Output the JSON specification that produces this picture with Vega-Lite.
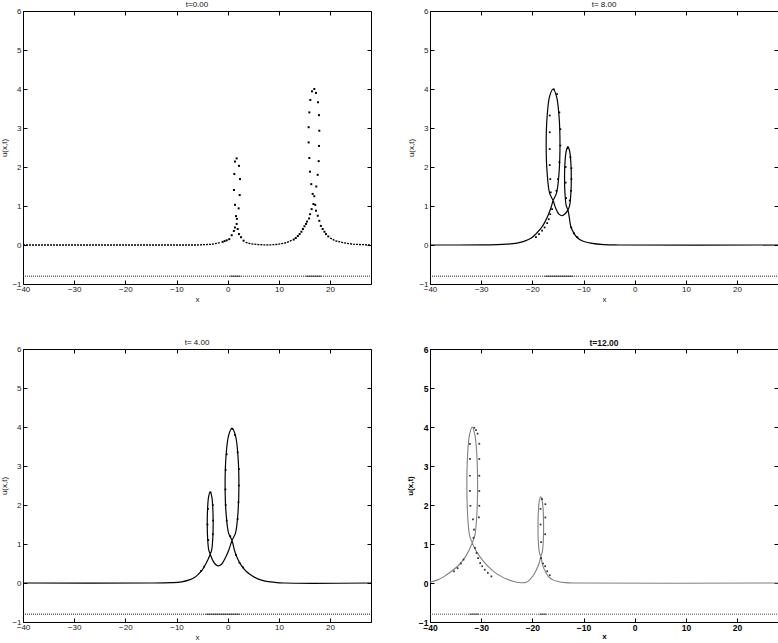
{
"$schema": "https://vega.github.io/schema/vega-lite/v6.json",
"background": "white",
"padding": {"left": 0, "top": 0, "right": 0, "bottom": 0},
"bounds": "flush",
"columns": 2,
"spacing": {"row": 65, "column": 59},
"config": {
  "font": "Liberation Sans",
  "view": {"stroke": "black", "strokeWidth": 1},
  "title": {"fontSize": 8, "fontWeight": "normal", "offset": -2, "color": "#111"},
  "axis": {"labelFontSize": 8, "titleFontSize": 8, "titleFontWeight": "normal", "tickColor": "black", "labelColor": "#222", "titleColor": "#222", "grid": false, "domain": false, "tickSize": -4, "tickWidth": 1, "labelFlush": false, "minExtent": 0},
  "axisX": {"labelPadding": 5},
  "axisY": {"labelPadding": 6}
},
"datasets": {
  "mesh": [
    {"p":"TL","k":"d","x":-40,"x2":28,"u":-0.8},{"p":"TL","k":"c","x":0.5,"x2":2.5,"u":-0.8},{"p":"TL","k":"c","x":15.3,"x2":18.3,"u":-0.8},
    {"p":"TR","k":"d","x":-40,"x2":28,"u":-0.8},{"p":"TR","k":"c","x":-17.5,"x2":-12,"u":-0.8},
    {"p":"BL","k":"d","x":-40,"x2":28,"u":-0.8},{"p":"BL","k":"c","x":-4.2,"x2":2.3,"u":-0.8},
    {"p":"BR","k":"d","x":-40,"x2":28,"u":-0.8},{"p":"BR","k":"c","x":-32.3,"x2":-30.4,"u":-0.8},{"p":"BR","k":"c","x":-18.6,"x2":-17.3,"u":-0.8}
  ],
  "curve": [
    {"p":"TL","s":"a","i":1,"x":-40,"u":0},{"p":"TL","s":"a","i":2,"x":-6,"u":0},{"p":"TL","s":"a","i":3,"x":-3,"u":0.02},{"p":"TL","s":"a","i":4,"x":-1.5,"u":0.06},
    {"p":"TL","s":"b","i":1,"x":3.5,"u":0.07},{"p":"TL","s":"b","i":2,"x":4.5,"u":0.03},{"p":"TL","s":"b","i":3,"x":6,"u":0.01},{"p":"TL","s":"b","i":4,"x":8,"u":0},{"p":"TL","s":"b","i":5,"x":10,"u":0.02},{"p":"TL","s":"b","i":6,"x":11.5,"u":0.06},{"p":"TL","s":"b","i":7,"x":12.5,"u":0.12},
    {"p":"TL","s":"c","i":1,"x":20,"u":0.18},{"p":"TL","s":"c","i":2,"x":21,"u":0.11},{"p":"TL","s":"c","i":3,"x":22.5,"u":0.06},{"p":"TL","s":"c","i":4,"x":24.5,"u":0.02},{"p":"TL","s":"c","i":5,"x":28,"u":0},

    {"p":"TR","i":1,"x":-40,"u":0},{"p":"TR","i":2,"x":-30,"u":0.002},{"p":"TR","i":3,"x":-27,"u":0.008},{"p":"TR","i":4,"x":-25,"u":0.02},{"p":"TR","i":5,"x":-23,"u":0.05},{"p":"TR","i":6,"x":-21.5,"u":0.1},{"p":"TR","i":7,"x":-20.2,"u":0.18},{"p":"TR","i":8,"x":-19.2,"u":0.3},{"p":"TR","i":9,"x":-18.3,"u":0.43},{"p":"TR","i":10,"x":-17.5,"u":0.6},{"p":"TR","i":11,"x":-16.8,"u":0.8},{"p":"TR","i":12,"x":-16.3,"u":0.98},{"p":"TR","i":13,"x":-15.95,"u":1.14},{"p":"TR","i":14,"x":-15.28,"u":1.33},{"p":"TR","i":15,"x":-14.78,"u":1.86},{"p":"TR","i":16,"x":-14.6,"u":2.57},{"p":"TR","i":17,"x":-14.78,"u":3.29},{"p":"TR","i":18,"x":-15.28,"u":3.81},{"p":"TR","i":19,"x":-15.95,"u":4.0},{"p":"TR","i":20,"x":-16.63,"u":3.81},{"p":"TR","i":21,"x":-17.12,"u":3.29},{"p":"TR","i":22,"x":-17.3,"u":2.57},{"p":"TR","i":23,"x":-17.12,"u":1.86},{"p":"TR","i":24,"x":-16.63,"u":1.33},{"p":"TR","i":25,"x":-15.95,"u":1.14},{"p":"TR","i":26,"x":-15.4,"u":0.93},{"p":"TR","i":27,"x":-14.8,"u":0.79},{"p":"TR","i":28,"x":-14.2,"u":0.75},{"p":"TR","i":29,"x":-13.6,"u":0.8},{"p":"TR","i":30,"x":-13.05,"u":0.9},{"p":"TR","i":31,"x":-12.72,"u":1.01},{"p":"TR","i":32,"x":-12.48,"u":1.31},{"p":"TR","i":33,"x":-12.39,"u":1.71},{"p":"TR","i":34,"x":-12.48,"u":2.12},{"p":"TR","i":35,"x":-12.72,"u":2.41},{"p":"TR","i":36,"x":-13.05,"u":2.52},{"p":"TR","i":37,"x":-13.38,"u":2.41},{"p":"TR","i":38,"x":-13.62,"u":2.12},{"p":"TR","i":39,"x":-13.71,"u":1.71},{"p":"TR","i":40,"x":-13.62,"u":1.31},{"p":"TR","i":41,"x":-13.38,"u":1.01},{"p":"TR","i":42,"x":-13.05,"u":0.9},{"p":"TR","i":43,"x":-12.75,"u":0.68},{"p":"TR","i":44,"x":-12.5,"u":0.48},{"p":"TR","i":45,"x":-12.0,"u":0.33},{"p":"TR","i":46,"x":-11.3,"u":0.2},{"p":"TR","i":47,"x":-10.3,"u":0.11},{"p":"TR","i":48,"x":-8.6,"u":0.05},{"p":"TR","i":49,"x":-6,"u":0.01},{"p":"TR","i":50,"x":-3,"u":0},{"p":"TR","i":51,"x":28,"u":0},

    {"p":"BL","i":1,"x":-40,"u":0},{"p":"BL","i":2,"x":-15,"u":0},{"p":"BL","i":3,"x":-11,"u":0.01},{"p":"BL","i":4,"x":-9,"u":0.03},{"p":"BL","i":5,"x":-7.5,"u":0.08},{"p":"BL","i":6,"x":-6.5,"u":0.14},{"p":"BL","i":7,"x":-5.7,"u":0.23},{"p":"BL","i":8,"x":-5.0,"u":0.33},{"p":"BL","i":9,"x":-4.45,"u":0.45},{"p":"BL","i":10,"x":-3.85,"u":0.6},{"p":"BL","i":11,"x":-3.42,"u":0.74},{"p":"BL","i":12,"x":-3.13,"u":0.85},{"p":"BL","i":13,"x":-2.92,"u":1.14},{"p":"BL","i":14,"x":-2.84,"u":1.54},{"p":"BL","i":15,"x":-2.92,"u":1.94},{"p":"BL","i":16,"x":-3.13,"u":2.23},{"p":"BL","i":17,"x":-3.42,"u":2.34},{"p":"BL","i":18,"x":-3.71,"u":2.23},{"p":"BL","i":19,"x":-3.92,"u":1.94},{"p":"BL","i":20,"x":-4.0,"u":1.54},{"p":"BL","i":21,"x":-3.92,"u":1.14},{"p":"BL","i":22,"x":-3.71,"u":0.85},{"p":"BL","i":23,"x":-3.42,"u":0.74},{"p":"BL","i":24,"x":-2.85,"u":0.56},{"p":"BL","i":25,"x":-2.3,"u":0.47},{"p":"BL","i":26,"x":-1.85,"u":0.44},{"p":"BL","i":27,"x":-1.2,"u":0.48},{"p":"BL","i":28,"x":-0.55,"u":0.62},{"p":"BL","i":29,"x":0.2,"u":0.84},{"p":"BL","i":30,"x":0.84,"u":1.09},{"p":"BL","i":31,"x":1.52,"u":1.28},{"p":"BL","i":32,"x":2.01,"u":1.81},{"p":"BL","i":33,"x":2.19,"u":2.53},{"p":"BL","i":34,"x":2.01,"u":3.25},{"p":"BL","i":35,"x":1.52,"u":3.78},{"p":"BL","i":36,"x":0.84,"u":3.97},{"p":"BL","i":37,"x":0.17,"u":3.78},{"p":"BL","i":38,"x":-0.33,"u":3.25},{"p":"BL","i":39,"x":-0.51,"u":2.53},{"p":"BL","i":40,"x":-0.33,"u":1.81},{"p":"BL","i":41,"x":0.17,"u":1.28},{"p":"BL","i":42,"x":0.84,"u":1.09},{"p":"BL","i":43,"x":1.41,"u":0.8},{"p":"BL","i":44,"x":2.0,"u":0.6},{"p":"BL","i":45,"x":2.72,"u":0.44},{"p":"BL","i":46,"x":3.6,"u":0.3},{"p":"BL","i":47,"x":4.68,"u":0.19},{"p":"BL","i":48,"x":6,"u":0.1},{"p":"BL","i":49,"x":7.3,"u":0.05},{"p":"BL","i":50,"x":9,"u":0.02},{"p":"BL","i":51,"x":11,"u":0},{"p":"BL","i":52,"x":28,"u":0},

    {"p":"BR","i":1,"x":-40,"u":0.02},{"p":"BR","i":2,"x":-38.5,"u":0.08},{"p":"BR","i":3,"x":-37.2,"u":0.17},{"p":"BR","i":4,"x":-35.8,"u":0.3},{"p":"BR","i":5,"x":-34.6,"u":0.43},{"p":"BR","i":6,"x":-33.7,"u":0.56},{"p":"BR","i":7,"x":-33.0,"u":0.69},{"p":"BR","i":8,"x":-32.3,"u":0.86},{"p":"BR","i":9,"x":-31.75,"u":1.03},{"p":"BR","i":10,"x":-31.23,"u":1.23},{"p":"BR","i":11,"x":-30.84,"u":1.77},{"p":"BR","i":12,"x":-30.7,"u":2.52},{"p":"BR","i":13,"x":-30.84,"u":3.26},{"p":"BR","i":14,"x":-31.23,"u":3.8},{"p":"BR","i":15,"x":-31.75,"u":4.0},{"p":"BR","i":16,"x":-32.28,"u":3.8},{"p":"BR","i":17,"x":-32.66,"u":3.26},{"p":"BR","i":18,"x":-32.8,"u":2.52},{"p":"BR","i":19,"x":-32.66,"u":1.77},{"p":"BR","i":20,"x":-32.28,"u":1.23},{"p":"BR","i":21,"x":-31.75,"u":1.03},{"p":"BR","i":22,"x":-31.2,"u":0.87},{"p":"BR","i":23,"x":-30.6,"u":0.74},{"p":"BR","i":24,"x":-29.7,"u":0.58},{"p":"BR","i":25,"x":-28.7,"u":0.43},{"p":"BR","i":26,"x":-27.4,"u":0.28},{"p":"BR","i":27,"x":-26.1,"u":0.17},{"p":"BR","i":28,"x":-24.8,"u":0.09},{"p":"BR","i":29,"x":-23.6,"u":0.04},{"p":"BR","i":30,"x":-22.6,"u":0.012},{"p":"BR","i":31,"x":-21.9,"u":0.005},{"p":"BR","i":32,"x":-21.2,"u":0.02},{"p":"BR","i":33,"x":-20.7,"u":0.06},{"p":"BR","i":34,"x":-20.2,"u":0.13},{"p":"BR","i":35,"x":-19.7,"u":0.22},{"p":"BR","i":36,"x":-19.2,"u":0.34},{"p":"BR","i":37,"x":-18.7,"u":0.5},{"p":"BR","i":38,"x":-18.35,"u":0.68},{"p":"BR","i":39,"x":-18.08,"u":0.78},{"p":"BR","i":40,"x":-17.87,"u":1.06},{"p":"BR","i":41,"x":-17.8,"u":1.45},{"p":"BR","i":42,"x":-17.87,"u":1.83},{"p":"BR","i":43,"x":-18.08,"u":2.11},{"p":"BR","i":44,"x":-18.35,"u":2.21},{"p":"BR","i":45,"x":-18.63,"u":2.11},{"p":"BR","i":46,"x":-18.83,"u":1.83},{"p":"BR","i":47,"x":-18.9,"u":1.45},{"p":"BR","i":48,"x":-18.83,"u":1.06},{"p":"BR","i":49,"x":-18.63,"u":0.78},{"p":"BR","i":50,"x":-18.35,"u":0.68},{"p":"BR","i":51,"x":-18.1,"u":0.52},{"p":"BR","i":52,"x":-17.9,"u":0.42},{"p":"BR","i":53,"x":-17.4,"u":0.28},{"p":"BR","i":54,"x":-16.9,"u":0.17},{"p":"BR","i":55,"x":-16.0,"u":0.08},{"p":"BR","i":56,"x":-15.0,"u":0.04},{"p":"BR","i":57,"x":-13.5,"u":0.01},{"p":"BR","i":58,"x":-11.7,"u":0},{"p":"BR","i":59,"x":28,"u":0}
  ],
  "dots": [
    {"p":"TL","x":-1.0,"u":0.08},{"p":"TL","x":-0.6,"u":0.1},{"p":"TL","x":-0.2,"u":0.12},{"p":"TL","x":0.3,"u":0.15},{"p":"TL","x":0.78,"u":0.25},{"p":"TL","x":1.2,"u":0.36},{"p":"TL","x":1.42,"u":0.45},{"p":"TL","x":1.75,"u":0.54},{"p":"TL","x":1.62,"u":0.74},{"p":"TL","x":1.42,"u":1.03},{"p":"TL","x":1.23,"u":1.41},{"p":"TL","x":1.29,"u":1.82},{"p":"TL","x":1.42,"u":2.14},{"p":"TL","x":1.75,"u":2.22},{"p":"TL","x":2.2,"u":2.03},{"p":"TL","x":2.4,"u":1.69},{"p":"TL","x":2.34,"u":1.28},{"p":"TL","x":2.14,"u":0.94},{"p":"TL","x":1.8,"u":0.67},{"p":"TL","x":1.95,"u":0.41},{"p":"TL","x":2.2,"u":0.28},{"p":"TL","x":2.6,"u":0.2},{"p":"TL","x":3.1,"u":0.11},
    {"p":"TL","x":12.9,"u":0.14},{"p":"TL","x":13.3,"u":0.18},{"p":"TL","x":13.7,"u":0.23},{"p":"TL","x":14.05,"u":0.28},{"p":"TL","x":14.4,"u":0.34},{"p":"TL","x":14.7,"u":0.41},{"p":"TL","x":15.0,"u":0.48},{"p":"TL","x":15.3,"u":0.54},{"p":"TL","x":15.5,"u":0.6},{"p":"TL","x":15.9,"u":0.68},{"p":"TL","x":16.1,"u":0.79},{"p":"TL","x":16.4,"u":0.92},{"p":"TL","x":16.75,"u":1.05},{"p":"TL","x":16.6,"u":1.31},{"p":"TL","x":16.33,"u":1.56},{"p":"TL","x":16.08,"u":1.88},{"p":"TL","x":15.95,"u":2.23},{"p":"TL","x":15.82,"u":2.63},{"p":"TL","x":15.82,"u":3.02},{"p":"TL","x":15.95,"u":3.4},{"p":"TL","x":16.14,"u":3.72},{"p":"TL","x":16.47,"u":3.94},{"p":"TL","x":16.92,"u":4.0},{"p":"TL","x":17.25,"u":3.9},{"p":"TL","x":17.64,"u":3.66},{"p":"TL","x":17.84,"u":3.33},{"p":"TL","x":17.9,"u":2.93},{"p":"TL","x":17.84,"u":2.54},{"p":"TL","x":17.78,"u":2.15},{"p":"TL","x":17.58,"u":1.8},{"p":"TL","x":17.31,"u":1.5},{"p":"TL","x":16.92,"u":1.25},{"p":"TL","x":17.1,"u":1.03},{"p":"TL","x":17.25,"u":0.88},{"p":"TL","x":17.6,"u":0.75},{"p":"TL","x":17.9,"u":0.62},{"p":"TL","x":18.2,"u":0.49},{"p":"TL","x":18.55,"u":0.41},{"p":"TL","x":18.9,"u":0.34},{"p":"TL","x":19.2,"u":0.28},{"p":"TL","x":19.65,"u":0.22},

    {"p":"TR","x":-15.8,"u":3.99},{"p":"TR","x":-15.17,"u":3.87},{"p":"TR","x":-14.72,"u":3.4},{"p":"TR","x":-14.52,"u":2.97},{"p":"TR","x":-14.52,"u":2.55},{"p":"TR","x":-14.72,"u":2.12},{"p":"TR","x":-14.98,"u":1.69},{"p":"TR","x":-15.3,"u":1.39},{"p":"TR","x":-16.6,"u":3.32},{"p":"TR","x":-16.6,"u":2.89},{"p":"TR","x":-16.6,"u":2.46},{"p":"TR","x":-16.6,"u":2.05},{"p":"TR","x":-16.5,"u":1.69},{"p":"TR","x":-16.4,"u":1.35},{"p":"TR","x":-16.15,"u":0.92},{"p":"TR","x":-16.5,"u":0.79},{"p":"TR","x":-16.8,"u":0.66},{"p":"TR","x":-17.1,"u":0.56},{"p":"TR","x":-17.6,"u":0.45},{"p":"TR","x":-18.1,"u":0.37},{"p":"TR","x":-18.7,"u":0.28},{"p":"TR","x":-19.3,"u":0.2},{"p":"TR","x":-13.09,"u":2.48},{"p":"TR","x":-12.56,"u":2.25},{"p":"TR","x":-12.37,"u":1.97},{"p":"TR","x":-12.37,"u":1.69},{"p":"TR","x":-12.43,"u":1.39},{"p":"TR","x":-12.7,"u":1.14},{"p":"TR","x":-13.5,"u":2.0},{"p":"TR","x":-13.5,"u":1.6},{"p":"TR","x":-13.4,"u":1.2},{"p":"TR","x":-12.4,"u":0.45},{"p":"TR","x":-11.9,"u":0.3},{"p":"TR","x":-11.2,"u":0.2},

    {"p":"BL","x":1.94,"u":3.35},{"p":"BL","x":2.19,"u":2.92},{"p":"BL","x":2.19,"u":2.5},{"p":"BL","x":2.1,"u":2.07},{"p":"BL","x":1.94,"u":1.64},{"p":"BL","x":-0.2,"u":3.3},{"p":"BL","x":-0.4,"u":2.9},{"p":"BL","x":-0.45,"u":2.4},{"p":"BL","x":-0.4,"u":2.0},{"p":"BL","x":-0.2,"u":1.6},{"p":"BL","x":0.5,"u":1.2},{"p":"BL","x":0.9,"u":3.95},{"p":"BL","x":1.4,"u":3.8},{"p":"BL","x":-2.9,"u":2.0},{"p":"BL","x":-2.85,"u":1.6},{"p":"BL","x":-2.9,"u":1.25},{"p":"BL","x":-3.85,"u":1.9},{"p":"BL","x":-3.95,"u":1.5},{"p":"BL","x":-3.8,"u":1.1},{"p":"BL","x":-3.35,"u":2.32},{"p":"BL","x":-4.6,"u":0.42},{"p":"BL","x":-5.2,"u":0.31},{"p":"BL","x":1.6,"u":0.72},{"p":"BL","x":2.3,"u":0.52},{"p":"BL","x":3.0,"u":0.4},

    {"p":"BR","x":-31.35,"u":3.98},{"p":"BR","x":-31.02,"u":3.92},{"p":"BR","x":-30.7,"u":3.83},{"p":"BR","x":-30.37,"u":3.57},{"p":"BR","x":-30.37,"u":3.18},{"p":"BR","x":-30.37,"u":2.75},{"p":"BR","x":-30.37,"u":2.36},{"p":"BR","x":-30.37,"u":1.98},{"p":"BR","x":-30.45,"u":1.68},{"p":"BR","x":-32.2,"u":3.57},{"p":"BR","x":-32.2,"u":3.18},{"p":"BR","x":-32.2,"u":2.75},{"p":"BR","x":-32.2,"u":2.36},{"p":"BR","x":-32.1,"u":1.98},{"p":"BR","x":-31.6,"u":1.63},{"p":"BR","x":-31.4,"u":1.37},{"p":"BR","x":-31.5,"u":1.16},{"p":"BR","x":-31.2,"u":0.9},{"p":"BR","x":-30.9,"u":0.77},{"p":"BR","x":-30.6,"u":0.64},{"p":"BR","x":-30.2,"u":0.51},{"p":"BR","x":-29.8,"u":0.43},{"p":"BR","x":-29.3,"u":0.34},{"p":"BR","x":-28.7,"u":0.26},{"p":"BR","x":-28.0,"u":0.17},{"p":"BR","x":-33.45,"u":0.6},{"p":"BR","x":-33.97,"u":0.5},{"p":"BR","x":-34.6,"u":0.38},{"p":"BR","x":-35.3,"u":0.3},
    {"p":"BR","x":-18.12,"u":2.15},{"p":"BR","x":-17.46,"u":2.02},{"p":"BR","x":-17.46,"u":1.68},{"p":"BR","x":-17.5,"u":1.25},{"p":"BR","x":-18.4,"u":1.9},{"p":"BR","x":-18.4,"u":1.5},{"p":"BR","x":-18.3,"u":1.05},{"p":"BR","x":-18.3,"u":0.64},{"p":"BR","x":-17.9,"u":0.5},{"p":"BR","x":-17.5,"u":0.43},{"p":"BR","x":-17.1,"u":0.3},{"p":"BR","x":-16.6,"u":0.2}
  ]
},
"concat": [
  {
    "width": 348, "height": 273,
    "title": {"text": "t=0.00"},
    "layer": [
      {"data": {"name": "mesh"}, "transform": [{"filter": "datum.p==='TL' && datum.k==='d'"}],
       "mark": {"type": "rule", "strokeDash": [1, 1], "color": "#222", "strokeWidth": 1},
       "encoding": {
         "x": {"field": "x", "type": "quantitative", "scale": {"domain": [-40, 28], "nice": false, "zero": false}, "axis": {"orient": "bottom", "values": [-40, -30, -20, -10, 0, 10, 20], "title": "x", "titlePadding": 2}},
         "x2": {"field": "x2"},
         "y": {"field": "u", "type": "quantitative", "scale": {"domain": [-1, 6], "nice": false, "zero": false}, "axis": {"orient": "left", "values": [-1, 0, 1, 2, 3, 4, 5, 6], "title": "u(x,t)", "titlePadding": 3}}
       }},
      {"data": {"name": "mesh"}, "transform": [{"filter": "datum.p==='TL' && datum.k==='c'"}],
       "mark": {"type": "rule", "color": "#333", "strokeWidth": 1},
       "encoding": {"x": {"field": "x", "type": "quantitative", "axis": null}, "x2": {"field": "x2"}, "y": {"field": "u", "type": "quantitative", "axis": null}}},
      {"data": {"name": "curve"}, "transform": [{"filter": "datum.p==='TL'"}],
       "mark": {"type": "line", "color": "black", "strokeWidth": 1.3, "strokeDash": [2, 1]},
       "encoding": {
         "x": {"field": "x", "type": "quantitative", "axis": {"orient": "top", "values": [-40, -30, -20, -10, 0, 10, 20], "labels": false, "title": null, "maxExtent": 0}},
         "y": {"field": "u", "type": "quantitative", "axis": {"orient": "right", "values": [-1, 0, 1, 2, 3, 4, 5, 6], "labels": false, "title": null, "maxExtent": 0}},
         "detail": {"field": "s"}, "order": {"field": "i"}
       }},
      {"data": {"name": "dots"}, "transform": [{"filter": "datum.p==='TL'"}],
       "mark": {"type": "square", "color": "black", "size": 4, "opacity": 1},
       "encoding": {"x": {"field": "x", "type": "quantitative", "axis": null}, "y": {"field": "u", "type": "quantitative", "axis": null}}}
    ],
    "resolve": {"axis": {"x": "independent", "y": "independent"}}
  },
  {
    "width": 348, "height": 273,
    "title": {"text": "t= 8.00"},
    "layer": [
      {"data": {"name": "mesh"}, "transform": [{"filter": "datum.p==='TR' && datum.k==='d'"}],
       "mark": {"type": "rule", "strokeDash": [1, 1], "color": "#222", "strokeWidth": 1},
       "encoding": {
         "x": {"field": "x", "type": "quantitative", "scale": {"domain": [-40, 28], "nice": false, "zero": false}, "axis": {"orient": "bottom", "values": [-40, -30, -20, -10, 0, 10, 20], "title": "x", "titlePadding": 2}},
         "x2": {"field": "x2"},
         "y": {"field": "u", "type": "quantitative", "scale": {"domain": [-1, 6], "nice": false, "zero": false}, "axis": {"orient": "left", "values": [-1, 0, 1, 2, 3, 4, 5, 6], "title": "u(x,t)", "titlePadding": 3}}
       }},
      {"data": {"name": "mesh"}, "transform": [{"filter": "datum.p==='TR' && datum.k==='c'"}],
       "mark": {"type": "rule", "color": "#333", "strokeWidth": 1},
       "encoding": {"x": {"field": "x", "type": "quantitative", "axis": null}, "x2": {"field": "x2"}, "y": {"field": "u", "type": "quantitative", "axis": null}}},
      {"data": {"name": "curve"}, "transform": [{"filter": "datum.p==='TR'"}],
       "mark": {"type": "line", "color": "black", "strokeWidth": 1.2, "interpolate": "catmull-rom"},
       "encoding": {
         "x": {"field": "x", "type": "quantitative", "axis": {"orient": "top", "values": [-40, -30, -20, -10, 0, 10, 20], "labels": false, "title": null, "maxExtent": 0}},
         "y": {"field": "u", "type": "quantitative", "axis": {"orient": "right", "values": [-1, 0, 1, 2, 3, 4, 5, 6], "labels": false, "title": null, "maxExtent": 0}},
         "order": {"field": "i"}
       }},
      {"data": {"name": "dots"}, "transform": [{"filter": "datum.p==='TR'"}],
       "mark": {"type": "square", "color": "black", "size": 3, "opacity": 1},
       "encoding": {"x": {"field": "x", "type": "quantitative", "axis": null}, "y": {"field": "u", "type": "quantitative", "axis": null}}}
    ],
    "resolve": {"axis": {"x": "independent", "y": "independent"}}
  },
  {
    "width": 348, "height": 273,
    "title": {"text": "t= 4.00"},
    "layer": [
      {"data": {"name": "mesh"}, "transform": [{"filter": "datum.p==='BL' && datum.k==='d'"}],
       "mark": {"type": "rule", "strokeDash": [1, 1], "color": "#222", "strokeWidth": 1},
       "encoding": {
         "x": {"field": "x", "type": "quantitative", "scale": {"domain": [-40, 28], "nice": false, "zero": false}, "axis": {"orient": "bottom", "values": [-40, -30, -20, -10, 0, 10, 20], "title": "x", "titlePadding": 2}},
         "x2": {"field": "x2"},
         "y": {"field": "u", "type": "quantitative", "scale": {"domain": [-1, 6], "nice": false, "zero": false}, "axis": {"orient": "left", "values": [-1, 0, 1, 2, 3, 4, 5, 6], "title": "u(x,t)", "titlePadding": 3}}
       }},
      {"data": {"name": "mesh"}, "transform": [{"filter": "datum.p==='BL' && datum.k==='c'"}],
       "mark": {"type": "rule", "color": "#333", "strokeWidth": 1},
       "encoding": {"x": {"field": "x", "type": "quantitative", "axis": null}, "x2": {"field": "x2"}, "y": {"field": "u", "type": "quantitative", "axis": null}}},
      {"data": {"name": "curve"}, "transform": [{"filter": "datum.p==='BL'"}],
       "mark": {"type": "line", "color": "black", "strokeWidth": 1.2, "interpolate": "catmull-rom"},
       "encoding": {
         "x": {"field": "x", "type": "quantitative", "axis": {"orient": "top", "values": [-40, -30, -20, -10, 0, 10, 20], "labels": false, "title": null, "maxExtent": 0}},
         "y": {"field": "u", "type": "quantitative", "axis": {"orient": "right", "values": [-1, 0, 1, 2, 3, 4, 5, 6], "labels": false, "title": null, "maxExtent": 0}},
         "order": {"field": "i"}
       }},
      {"data": {"name": "dots"}, "transform": [{"filter": "datum.p==='BL'"}],
       "mark": {"type": "square", "color": "black", "size": 3, "opacity": 1},
       "encoding": {"x": {"field": "x", "type": "quantitative", "axis": null}, "y": {"field": "u", "type": "quantitative", "axis": null}}}
    ],
    "resolve": {"axis": {"x": "independent", "y": "independent"}}
  },
  {
    "width": 348, "height": 273,
    "title": {"text": "t=12.00", "fontWeight": "bold", "fontSize": 8.5},
    "layer": [
      {"data": {"name": "mesh"}, "transform": [{"filter": "datum.p==='BR' && datum.k==='d'"}],
       "mark": {"type": "rule", "strokeDash": [1, 1], "color": "#555", "strokeWidth": 1},
       "encoding": {
         "x": {"field": "x", "type": "quantitative", "scale": {"domain": [-40, 28], "nice": false, "zero": false}, "axis": {"orient": "bottom", "values": [-40, -30, -20, -10, 0, 10, 20], "title": "x", "titlePadding": 1, "labelFontWeight": "bold", "titleFontWeight": "bold", "labelFontSize": 8.5, "labelColor": "black", "titleColor": "black"}},
         "x2": {"field": "x2"},
         "y": {"field": "u", "type": "quantitative", "scale": {"domain": [-1, 6], "nice": false, "zero": false}, "axis": {"orient": "left", "values": [-1, 0, 1, 2, 3, 4, 5, 6], "title": "u(x,t)", "titlePadding": 4, "labelFontWeight": "bold", "titleFontWeight": "bold", "labelFontSize": 8.5, "labelColor": "black", "titleColor": "black"}}
       }},
      {"data": {"name": "mesh"}, "transform": [{"filter": "datum.p==='BR' && datum.k==='c'"}],
       "mark": {"type": "rule", "color": "#555", "strokeWidth": 1.2},
       "encoding": {"x": {"field": "x", "type": "quantitative", "axis": null}, "x2": {"field": "x2"}, "y": {"field": "u", "type": "quantitative", "axis": null}}},
      {"data": {"name": "curve"}, "transform": [{"filter": "datum.p==='BR'"}],
       "mark": {"type": "line", "color": "#808080", "strokeWidth": 1.1, "interpolate": "catmull-rom"},
       "encoding": {
         "x": {"field": "x", "type": "quantitative", "axis": {"orient": "top", "values": [-40, -30, -20, -10, 0, 10, 20], "labels": false, "title": null, "maxExtent": 0}},
         "y": {"field": "u", "type": "quantitative", "axis": {"orient": "right", "values": [-1, 0, 1, 2, 3, 4, 5, 6], "labels": false, "title": null, "maxExtent": 0}},
         "order": {"field": "i"}
       }},
      {"data": {"name": "dots"}, "transform": [{"filter": "datum.p==='BR'"}],
       "mark": {"type": "square", "color": "#333", "size": 3, "opacity": 1},
       "encoding": {"x": {"field": "x", "type": "quantitative", "axis": null}, "y": {"field": "u", "type": "quantitative", "axis": null}}}
    ],
    "resolve": {"axis": {"x": "independent", "y": "independent"}}
  }
]
}
